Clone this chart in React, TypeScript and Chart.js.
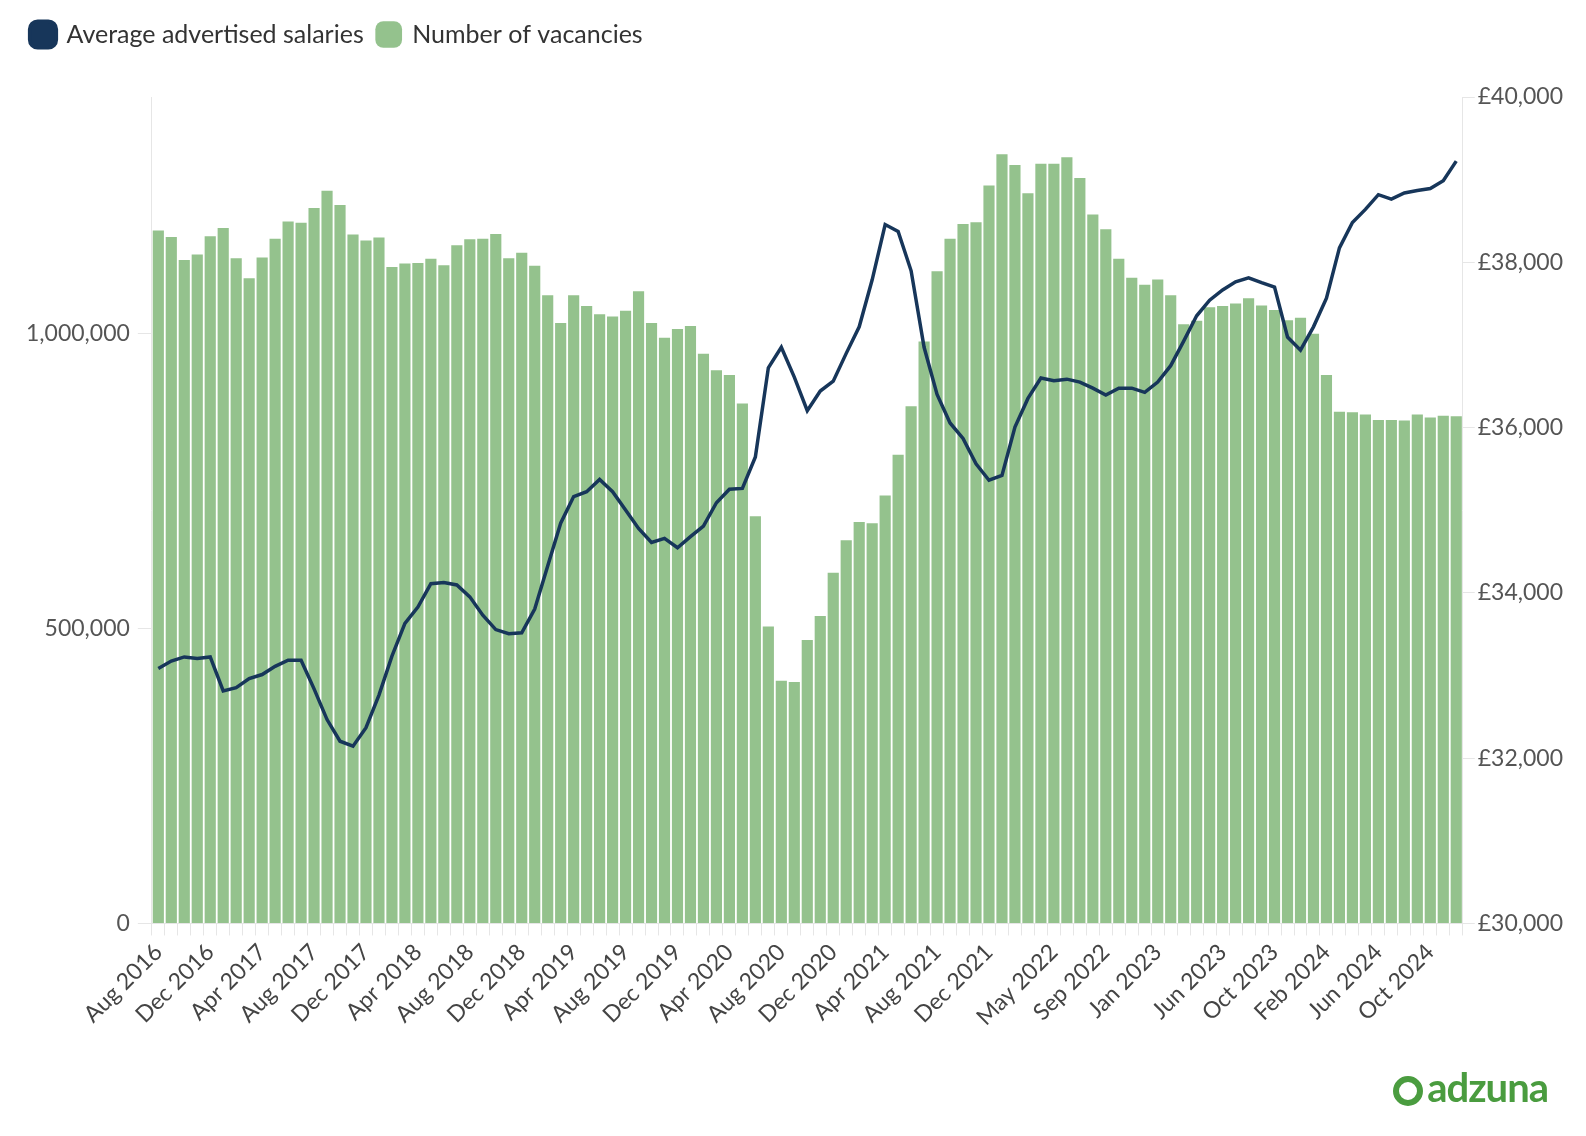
import React, { useEffect, useRef } from "react";
import { Chart, registerables } from "chart.js";
Chart.register(...registerables);

const MONTHS = ["Jan","Feb","Mar","Apr","May","Jun","Jul","Aug","Sep","Oct","Nov","Dec"];
const categories: string[] = [];
for (let y = 2016, m = 7; categories.length < 101; ) {
  categories.push(`${MONTHS[m]} ${y}`);
  m++; if (m === 12) { m = 0; y++; }
}
const shownLabels = ["Aug 2016","Dec 2016","Apr 2017","Aug 2017","Dec 2017","Apr 2018","Aug 2018","Dec 2018","Apr 2019","Aug 2019","Dec 2019","Apr 2020","Aug 2020","Dec 2020","Apr 2021","Aug 2021","Dec 2021","May 2022","Sep 2022","Jan 2023","Jun 2023","Oct 2023","Feb 2024","Jun 2024","Oct 2024"];

const vacancies = [
  1174000,1163000,1124000,1133000,1164000,1178000,1127000,1093000,1128000,1160000,
  1189000,1187000,1212000,1241000,1217000,1167000,1157000,1162000,1112000,1118000,
  1119000,1126000,1115000,1149000,1159000,1160000,1168000,1127000,1136000,1114000,
  1064000,1017000,1064000,1046000,1032000,1028000,1038000,1071000,1017000,992000,
  1007000,1012000,965000,937000,929000,881000,690000,503000,411000,409000,
  480000,521000,594000,649000,680000,678000,725000,794000,876000,986000,
  1105000,1160000,1185000,1188000,1250000,1303000,1285000,1237000,1287000,1287000,
  1298000,1263000,1201000,1176000,1126000,1094000,1082000,1091000,1064000,1015000,
  1021000,1044000,1046000,1050000,1059000,1047000,1039000,1022000,1026000,999000,
  929000,867000,866000,862000,853000,853000,852000,862000,857000,860000,859000
];

const salaries = [
  33086,33175,33225,33205,33225,32814,32853,32962,33012,33111,
  33185,33185,32839,32467,32205,32145,32368,32764,33235,33631,
  33829,34111,34126,34096,33952,33730,33556,33507,33517,33804,
  34324,34843,35165,35224,35373,35224,35002,34779,34611,34660,
  34546,34680,34809,35091,35254,35264,35645,36724,36972,36611,
  36205,36442,36561,36898,37219,37788,38457,38373,37897,36972,
  36402,36056,35868,35561,35363,35422,36006,36353,36600,36566,
  36586,36551,36477,36393,36477,36477,36427,36551,36749,37046,
  37353,37541,37665,37764,37813,37754,37699,37096,36937,37219,
  37566,38175,38482,38640,38818,38764,38838,38868,38893,38987,39224
];

export default function App() {
  const ref = useRef<HTMLCanvasElement>(null);
  useEffect(() => {
    const font = "Lato, 'Noto Sans', sans-serif";
    const chart = new Chart(ref.current!, {
      type: "bar",
      data: {
        labels: categories,
        datasets: [
          {
            type: "line", label: "Average advertised salaries", data: salaries, yAxisID: "y1",
            borderColor: "#17365a", backgroundColor: "#17365a", borderWidth: 3.5,
            pointRadius: 0, tension: 0, order: 0,
          } as any,
          {
            type: "bar", label: "Number of vacancies", data: vacancies, yAxisID: "y",
            backgroundColor: "#94c28d", borderWidth: 0, barPercentage: 0.86, categoryPercentage: 1,
            order: 1,
          },
        ],
      },
      options: {
        animation: false, responsive: false,
        layout: { padding: { left: 10, right: 12, top: 0, bottom: 94 } },
        plugins: {
          tooltip: { enabled: false },
          legend: {
            position: "top", align: "start",
            labels: {
              usePointStyle: true, pointStyle: "rectRounded", boxWidth: 22, boxHeight: 22,
              padding: 14, color: "#333", font: { family: font, size: 25 },
            },
          },
        },
        scales: {
          x: {
            grid: { display: true, drawOnChartArea: false, color: "#e6e6e6", tickLength: 12, offset: true },
            border: { color: "#e6e6e6" },
            ticks: {
              autoSkip: false, maxRotation: 45, minRotation: 45, color: "#444",
              font: { family: font, size: 23 },
              callback: (v: any) => (shownLabels.includes(categories[v]) ? categories[v] : ""),
            },
          },
          y: {
            position: "left", min: 0, max: 1400000,
            afterBuildTicks: (s: any) => { s.ticks = [0, 500000, 1000000].map((v) => ({ value: v })); },
            grid: { drawOnChartArea: false, color: "#e6e6e6", tickLength: 14 },
            border: { color: "#e6e6e6" },
            ticks: { padding: 8, color: "#555", font: { family: font, size: 23 }, callback: (v: any) => Number(v).toLocaleString("en-GB") },
          },
          y1: {
            position: "right", min: 30000, max: 40000,
            grid: { drawOnChartArea: false, color: "#e6e6e6", tickLength: 12 },
            border: { color: "#e6e6e6" },
            ticks: { stepSize: 2000, color: "#555", font: { family: font, size: 23 }, callback: (v: any) => "£" + Number(v).toLocaleString("en-GB") },
          },
        },
      },
      plugins: [{
        id: "legendGap",
        beforeInit(c: any) {
          const orig = c.legend.fit;
          c.legend.fit = function () { orig.bind(c.legend)(); this.height += 40; };
        },
      }],
    });
    return () => chart.destroy();
  }, []);
  return (
    <div style={{ position: "relative", width: 1570, height: 1120 }}>
      <canvas ref={ref} width={1570} height={1120} style={{ width: 1570, height: 1120 }} />
      <div style={{ position: "absolute", right: 30, top: 1055, color: "#4a9c3f", fontFamily: "Lato, sans-serif", fontWeight: 700, fontSize: 40, letterSpacing: -1 }}>
        <span style={{ display: "inline-block", width: 30, height: 30, border: "6px solid #4a9c3f", borderRadius: "50%", marginRight: 4, verticalAlign: "-4px", boxSizing: "border-box" }} />adzuna
      </div>
    </div>
  );
}
